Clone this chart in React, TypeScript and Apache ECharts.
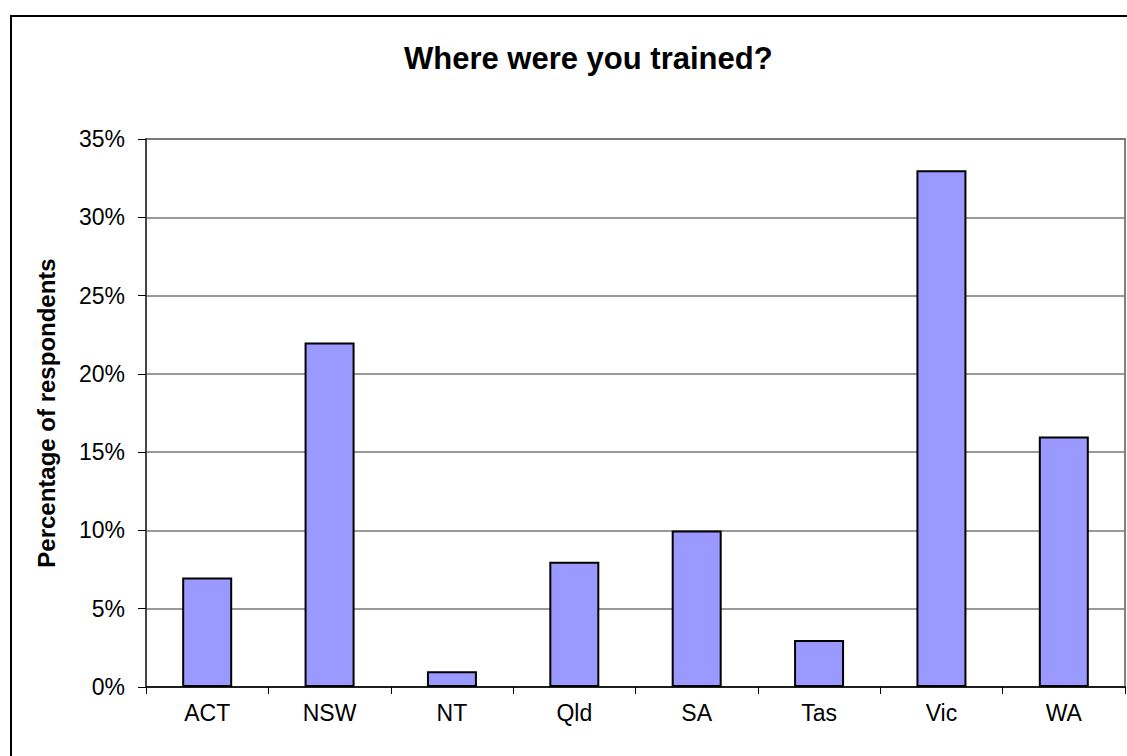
import React, { useEffect, useRef } from "react";
import * as echarts from "echarts";

const categories = ["ACT", "NSW", "NT", "Qld", "SA", "Tas", "Vic", "WA"];
const values = [7, 22, 1, 8, 10, 3, 33, 16];
const yMin = 0;
const yMax = 35;
const yStep = 5;

export default function App() {
  const ref = useRef<HTMLDivElement>(null);
  useEffect(() => {
    if (!ref.current) return;
    const chart = echarts.init(ref.current, undefined, { renderer: "svg" });
    const font = "'Liberation Sans', Arial, sans-serif";
    chart.setOption({
      animation: false,
      backgroundColor: "#ffffff",
      title: {
        text: "Where were you trained?",
        left: 399,
        top: 38,
        textStyle: { fontFamily: font, fontSize: 31, fontWeight: "bold", color: "#000" },
      },
      graphic: [
        {
          type: "rect",
          shape: { x: 11, y: 16, width: 1140, height: 760 },
          style: { fill: "none", stroke: "#000", lineWidth: 2 },
          silent: true,
        },
      ],
      grid: {
        left: 146,
        top: 139,
        right: 2,
        bottom: 69,
        show: true,
        borderColor: "#808080",
        borderWidth: 2,
        backgroundColor: "transparent",
      },
      xAxis: {
        type: "category",
        data: categories,
        axisLine: { show: true, lineStyle: { color: "#000", width: 1.5 } },
        axisTick: { show: true, inside: false, length: 7, lineStyle: { color: "#000" }, alignWithLabel: false },
        axisLabel: { fontFamily: font, fontSize: 23, color: "#000", margin: 14 },
        splitLine: { show: false },
      },
      yAxis: {
        type: "value",
        min: yMin,
        max: yMax,
        interval: yStep,
        name: "Percentage of respondents",
        nameLocation: "middle",
        nameGap: 88,
        nameTextStyle: { fontFamily: font, fontSize: 24, fontWeight: "bold", color: "#000" },
        axisLine: { show: true, lineStyle: { color: "#333", width: 1.5 } },
        axisTick: { show: true, length: 8, lineStyle: { color: "#000" } },
        axisLabel: { fontFamily: font, fontSize: 23, color: "#000", margin: 21, formatter: "{value}%" },
        splitLine: { show: true, lineStyle: { color: "#777", width: 1.5 } },
      },
      series: [
        {
          type: "bar",
          data: values,
          barWidth: 50,
          itemStyle: { color: "#9999FF", borderColor: "#000", borderWidth: 2 },
        },
      ],
    });
    return () => chart.dispose();
  }, []);
  return (
    <div
      ref={ref}
      style={{ position: "fixed", left: 0, top: 0, width: 1127, height: 756 }}
    />
  );
}
